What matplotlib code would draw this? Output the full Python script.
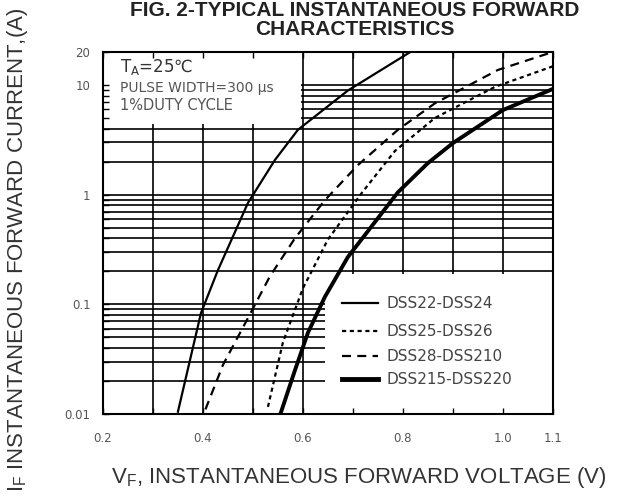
import matplotlib
matplotlib.use("Agg")
import matplotlib.pyplot as plt
from matplotlib.patches import Rectangle
from matplotlib.lines import Line2D
import numpy as np

plt.rcParams['lines.scale_dashes'] = False
plt.rcParams['font.family'] = ['Liberation Sans', 'DejaVu Sans']
WIDE = ['DejaVu Sans', 'Noto Sans CJK SC']

# ---- data ----
v_22 = [0.350, 0.396, 0.430, 0.490, 0.544, 0.590, 0.690, 0.815]
i_22 = [0.0105, 0.083, 0.205, 0.84, 2.07, 3.9, 8.9, 20.0]

v_25 = [0.530, 0.560, 0.600, 0.650, 0.718, 0.784, 0.864, 0.984, 1.100]
i_25 = [0.0116, 0.045, 0.14, 0.39, 1.04, 2.5, 5.0, 9.6, 14.8]

v_28 = [0.405, 0.440, 0.488, 0.534, 0.584, 0.644, 0.710, 0.790, 0.864, 0.990, 1.100]
i_28 = [0.011, 0.028, 0.072, 0.18, 0.40, 0.89, 1.86, 3.9, 6.8, 13.7, 20.0]

v_215 = [0.555, 0.584, 0.610, 0.644, 0.690, 0.790, 0.850, 0.900, 1.000, 1.100]
i_215 = [0.010, 0.025, 0.055, 0.117, 0.27, 1.05, 1.94, 2.95, 5.9, 9.2]

series_labels = ["DSS22-DSS24", "DSS25-DSS26", "DSS28-DSS210", "DSS215-DSS220"]

x_ticks = [0.2, 0.4, 0.6, 0.8, 1.0, 1.1]
x_ticklabels = ["0.2", "0.4", "0.6", "0.8", "1.0", "1.1"]
x_grid = [0.3, 0.4, 0.5, 0.6, 0.7, 0.8, 0.9, 1.0]
y_ticks = [0.01, 0.1, 1, 10, 20]
y_ticklabels = ["0.01", "0.1", "1", "10", "20"]

# ---- figure ----
fig = plt.figure(figsize=(6.24, 4.98), dpi=100)
ax = fig.add_axes([0.165, 0.1687, 0.721, 0.727])
ax.set_yscale('log')
ax.set_xlim(0.2, 1.1)
ax.set_ylim(0.01, 20)

# grid lines
grid_kw = dict(color='black', lw=1.2, zorder=1)
for xv in x_grid:
    ax.axvline(xv, **grid_kw)
for dec in [0.01, 0.1, 1]:
    for m in range(1, 10):
        yv = dec * m
        if yv > 0.01:
            ax.axhline(yv, **grid_kw)
ax.axhline(10, **grid_kw)

# white boxes (annotation + legend areas)
ax.add_patch(Rectangle((0.2, 4.4), 0.397, 20, facecolor='white', edgecolor='none', zorder=1.5))
ax.add_patch(Rectangle((0.645, 0.009), 0.46, 0.19 - 0.009, facecolor='white', edgecolor='none', zorder=1.5))

# curves
ax.plot(v_22, i_22, color='black', lw=1.6, zorder=3)
ax.plot(v_25, i_25, color='black', lw=1.6, dashes=(3, 2.6), zorder=3)
ax.plot(v_28, i_28, color='black', lw=1.6, dashes=(6.5, 4.5), zorder=3)
ax.plot(v_215, i_215, color='black', lw=2.8, zorder=3)

# ticks
ax.set_xticks(x_ticks)
ax.set_xticklabels(x_ticklabels)
ax.set_xticks(x_grid, minor=True)
ax.set_yticks(y_ticks)
ax.set_yticklabels(y_ticklabels)
ax.yaxis.set_minor_locator(matplotlib.ticker.LogLocator(base=10, subs=np.arange(2, 10)))
ax.yaxis.set_minor_formatter(matplotlib.ticker.NullFormatter())
ax.tick_params(which='both', direction='in', length=4, width=1, top=True, right=False,
               labelsize=8.5, labelcolor='#555555', zorder=2.5)
for lab in ax.get_xticklabels() + ax.get_yticklabels():
    lab.set_family('DejaVu Sans')
ax.tick_params(axis='x', which='major', pad=13)
ax.tick_params(axis='y', which='major', pad=9)
for s in ax.spines.values():
    s.set_linewidth(1.5)
    s.set_zorder(4)

# legend (manual)
styles = [dict(lw=1.6), dict(lw=1.6, dashes=(3, 2.6)), dict(lw=1.6, dashes=(6.5, 4.5)), dict(lw=3.5)]
leg_rows_px = [303, 331, 356, 379]
for lab, st, ypx in zip(series_labels, styles, leg_rows_px):
    yf = 1 - ypx / 498
    fig.add_artist(Line2D([342 / 624, 378 / 624], [yf, yf], color='black', **st))
    fig.text(386 / 624, yf, lab, ha='left', va='center', fontsize=11,
             family=WIDE, color='#444444')

# annotation
fig.text(120 / 624, 1 - 67 / 498, r"T$_\mathregular{A}$=25℃", ha='left', va='center',
         fontsize=12, family=WIDE, color='#333333')
fig.text(120 / 624, 1 - 88 / 498, "PULSE WIDTH=300 μs", ha='left', va='center',
         fontsize=10, family=WIDE, color='#555555')
fig.text(120 / 624, 1 - 105 / 498, "1%DUTY CYCLE", ha='left', va='center',
         fontsize=10.5, family=WIDE, color='#555555')

# titles / labels
fig.text(355 / 624, 1 - 16 / 498, "FIG. 2-TYPICAL INSTANTANEOUS FORWARD", ha='center',
         va='baseline', fontsize=15, weight='bold', color='#222222')
fig.text(355 / 624, 1 - 35 / 498, "CHARACTERISTICS", ha='center',
         va='baseline', fontsize=15, weight='bold', color='#222222')
fig.text(359 / 624, 1 - 478 / 498, r"V$_\mathregular{F}$, INSTANTANEOUS FORWARD VOLTAGE (V)",
         ha='center', va='center', fontsize=16, color='#333333')
fig.text(18 / 624, 1 - 250 / 498, r"I$_\mathregular{F}$ INSTANTANEOUS FORWARD CURRENT,(A)",
         ha='center', va='center', rotation=90, fontsize=16, color='#333333')

fig.savefig("out.png", dpi=100)
